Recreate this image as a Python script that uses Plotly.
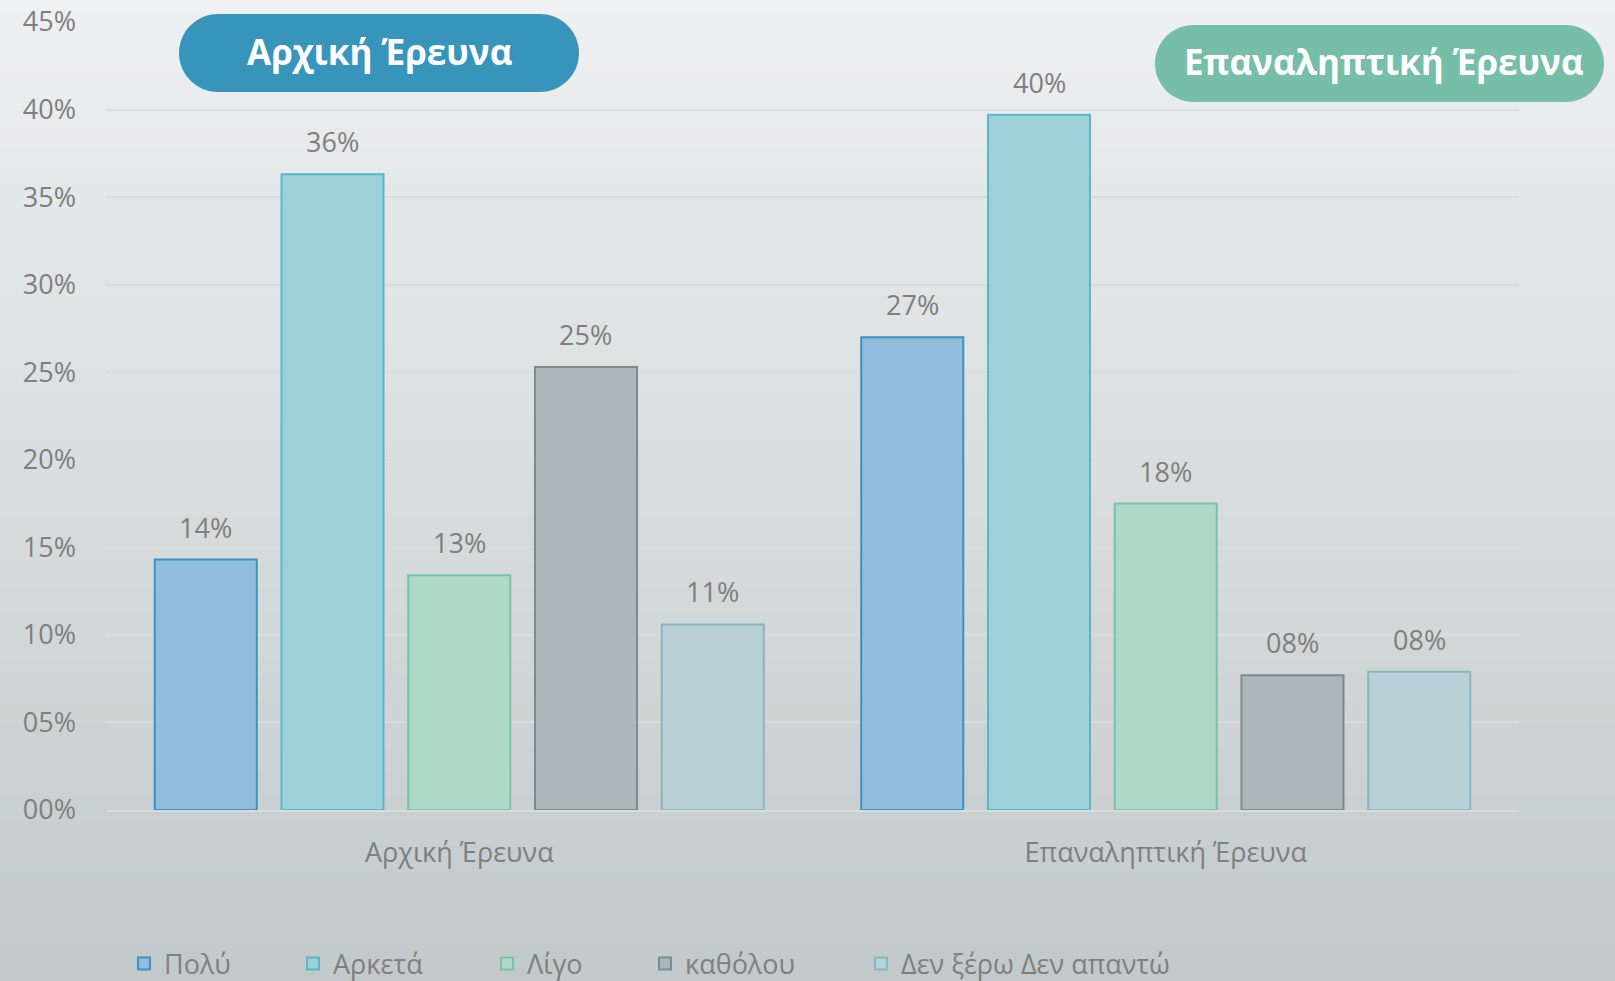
import plotly.graph_objects as go

# ---------------- data ----------------
categories = ["Αρχική Έρευνα", "Επαναληπτική Έρευνα"]
series_names = ["Πολύ", "Αρκετά", "Λίγο", "καθόλου", "Δεν ξέρω Δεν απαντώ"]
vals_poly = [0.143, 0.270]
vals_arketa = [0.363, 0.397]
vals_ligo = [0.134, 0.175]
vals_katholou = [0.253, 0.077]
vals_dk = [0.106, 0.079]
series_values = [vals_poly, vals_arketa, vals_ligo, vals_katholou, vals_dk]
tick_vals = [0, 0.05, 0.10, 0.15, 0.20, 0.25, 0.30, 0.35, 0.40, 0.45]
badge_texts = ["Αρχική Έρευνα", "Επαναληπτική Έρευνα"]

# ---------------- style ----------------
fills = ["#92bddc", "#9dd1d9", "#aed8c8", "#adb7b9", "#b8d1d7"]
lines = ["#3a93c0", "#5ab7c5", "#7ac2a8", "#7a8c8e", "#8cb4c0"]
grey = "#7f7f7f"
FONT = "Open Sans"
FS = 27

W_FIG, H_FIG = 1615, 981
L, R, T, B = 106, 96, 22, 171
PW = W_FIG - L - R
PH = H_FIG - T - B
BOTTOM_PX = H_FIG - B
BARGAP = 0.103
BARGROUPGAP = 0.195


def px2paper(px, py):
    return (px - L) / PW, (BOTTOM_PX - py) / PH


fig = go.Figure()
for name, vals, fc, lc, i in zip(series_names, series_values, fills, lines, range(5)):
    fig.add_trace(go.Bar(
        x=categories, y=vals, name=name, showlegend=True,
        marker=dict(color=fc, line=dict(color=lc, width=2)),
        legend="legend" if i == 0 else f"legend{i+1}",
        hoverinfo="skip",
    ))

# data labels via annotations (offset within group)
slot = PW / len(categories) * (1 - BARGAP) / len(series_names)
annotations = []
for i, vals in enumerate(series_values):
    for c, v in zip(categories, vals):
        annotations.append(dict(
            x=c, y=v, xref="x", yref="y", text=f"{round(v*100):02d}%",
            showarrow=False, xshift=(i - 2) * slot, yshift=12,
            yanchor="bottom", font=dict(family=FONT, size=FS, color=grey),
        ))

# background gradient bands
shapes = []
N = 80
top_c = (0xee, 0xf0, 0xf1)
bot_c = (0xc2, 0xc9, 0xca)
for k in range(N):
    t = (k + 0.5) / N
    col = tuple(round(top_c[j] + (bot_c[j] - top_c[j]) * t) for j in range(3))
    y0p = H_FIG * k / N
    y1p = H_FIG * (k + 1) / N + 1
    _, ya = px2paper(0, y0p)
    _, yb = px2paper(0, y1p)
    xa, _ = px2paper(0, 0)
    xb, _ = px2paper(W_FIG, 0)
    shapes.append(dict(type="rect", xref="paper", yref="paper", x0=xa, x1=xb,
                       y0=yb, y1=ya, fillcolor="rgb(%d,%d,%d)" % col,
                       line=dict(width=0), layer="below"))


def pill(x0, y0, x1, y1, color):
    r = (y1 - y0) / 2
    k = 0.5523 * r
    ym = y0 + r
    pts = [
        ("M", [(x0 + r, y0)]),
        ("L", [(x1 - r, y0)]),
        ("C", [(x1 - r + k, y0), (x1, ym - k), (x1, ym)]),
        ("C", [(x1, ym + k), (x1 - r + k, y1), (x1 - r, y1)]),
        ("L", [(x0 + r, y1)]),
        ("C", [(x0 + r - k, y1), (x0, ym + k), (x0, ym)]),
        ("C", [(x0, ym - k), (x0 + r - k, y0), (x0 + r, y0)]),
    ]
    path = ""
    for cmd, ps in pts:
        path += cmd + " " + " ".join("%.5f,%.5f" % px2paper(a, b) for a, b in ps) + " "
    path += "Z"
    return dict(type="path", xref="paper", yref="paper", path=path,
                fillcolor=color, line=dict(width=0), layer="above")


badges = [(179, 14, 579, 92, "#3795bc", 0), (1155, 25, 1604, 102, "#76bea8", 4)]
for (x0, y0, x1, y1, col, dx), txt in zip(badges, badge_texts):
    shapes.append(pill(x0, y0, x1, y1, col))
    cx, cy = px2paper((x0 + x1) / 2 + dx, (y0 + y1) / 2 - 2)
    annotations.append(dict(x=cx, y=cy, xref="paper", yref="paper", text=f"<b>{txt}</b>",
                            showarrow=False, xanchor="center", yanchor="middle",
                            font=dict(family=FONT, size=35, color="white")))

# legends positioned individually
legend_px = [124, 293, 487, 645, 861]
layout_legends = {}
for i, lx in enumerate(legend_px):
    key = "legend" if i == 0 else f"legend{i+1}"
    xp, yp = px2paper(lx, 964)
    layout_legends[key] = dict(x=xp, y=yp, xanchor="left", yanchor="middle",
                               orientation="h", bgcolor="rgba(0,0,0,0)",
                               font=dict(family=FONT, size=FS, color=grey))

fig.update_layout(
    width=W_FIG, height=H_FIG,
    margin=dict(l=L, r=R, t=T, b=B, autoexpand=False),
    paper_bgcolor="#d8dcdd", plot_bgcolor="rgba(0,0,0,0)",
    barmode="group", bargap=BARGAP, bargroupgap=BARGROUPGAP,
    shapes=shapes, annotations=annotations, showlegend=True,
    font=dict(family=FONT, color=grey),
    **layout_legends,
)
fig.update_yaxes(range=[0, 0.45], tickvals=tick_vals, tickformat="03.0%",
                 gridcolor="#d9dbdc", gridwidth=2, zeroline=False, showline=False,
                 tickfont=dict(family=FONT, size=FS, color=grey), ticklabelstandoff=29)
fig.update_xaxes(showline=True, linecolor="#d9dbdc", linewidth=2,
                 tickfont=dict(family=FONT, size=FS, color=grey), ticklabelstandoff=18)

fig.write_html("out.html")
